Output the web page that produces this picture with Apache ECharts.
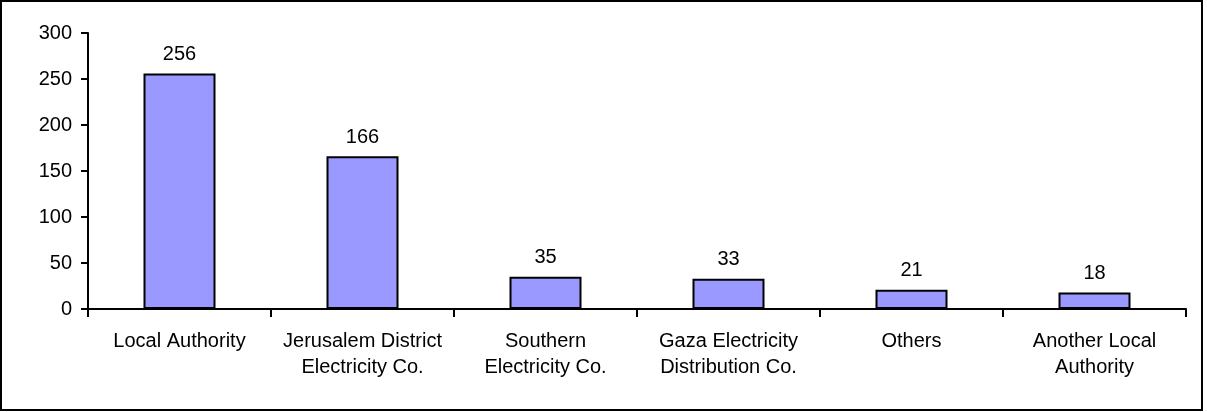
<!DOCTYPE html>
<html>
<head>
<meta charset="utf-8">
<script src="https://cdn.jsdelivr.net/npm/echarts@6/dist/echarts.min.js"></script>
<style>
  html, body { margin: 0; padding: 0; background: #fff; }
  #grafico { width: 1207px; height: 412px; }
</style>
</head>
<body>
<div id="grafico"></div>
<script>
// datos del grafico
var categorias = ['Local Authority', 'Jerusalem District\nElectricity Co.', 'Southern\nElectricity Co.', 'Gaza Electricity\nDistribution Co.', 'Others', 'Another Local\nAuthority'];
var valores = [256, 166, 35, 33, 21, 18];
var ticks_y = [0, 50, 100, 150, 200, 250, 300];

var color_barra = '#9999ff';
var fuente = 'Liberation Sans, Arial, sans-serif';

var chart = echarts.init(document.getElementById('grafico'));

var option = {
    animation: false,
    backgroundColor: '#fff',
    graphic: [
        {
            type: 'rect',
            shape: { x: 1, y: 1, width: 1201, height: 409 },
            style: { fill: 'none', stroke: '#000', lineWidth: 2 }
        }
    ],
    grid: { left: 88, right: 21, top: 33, bottom: 103 },
    xAxis: {
        type: 'category',
        data: categorias,
        axisLine: { lineStyle: { color: '#000', width: 2 } },
        axisTick: { show: true, length: 8, lineStyle: { color: '#000', width: 2 } },
        axisLabel: {
            color: '#000',
            fontFamily: fuente,
            fontSize: 20,
            lineHeight: 26,
            margin: 19,
            interval: 0
        }
    },
    yAxis: {
        type: 'value',
        min: ticks_y[0],
        max: ticks_y[ticks_y.length - 1],
        interval: 50,
        splitLine: { show: false },
        axisLine: { show: true, lineStyle: { color: '#000', width: 2 } },
        axisTick: { show: true, length: 7, lineStyle: { color: '#000', width: 2 } },
        axisLabel: {
            color: '#000',
            fontFamily: fuente,
            fontSize: 20,
            margin: 16
        }
    },
    series: [
        {
            type: 'bar',
            data: valores,
            barWidth: 72,
            itemStyle: { color: color_barra, borderColor: '#000', borderWidth: 2 },
            label: {
                show: true,
                position: 'top',
                distance: 9,
                color: '#000',
                fontFamily: fuente,
                fontSize: 20
            }
        }
    ]
};

chart.setOption(option);
</script>
</body>
</html>
